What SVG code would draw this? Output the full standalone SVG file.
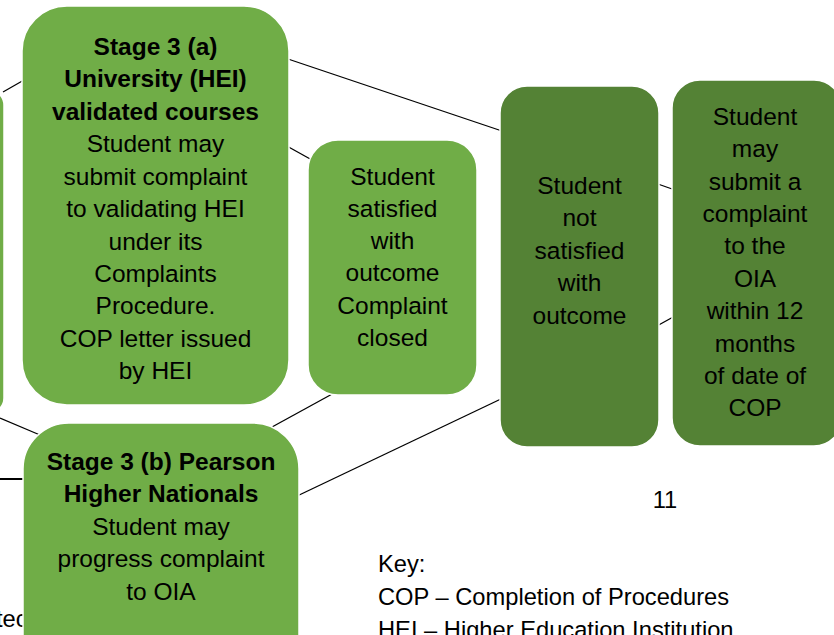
<svg xmlns="http://www.w3.org/2000/svg" width="834" height="635" viewBox="0 0 834 635">
<style>
.light{fill:#70AD47;stroke:#ffffff;stroke-width:1.5}
.dark{fill:#548235;stroke:#ffffff;stroke-width:1.5}
.t{font-family:"Liberation Sans",Arial,sans-serif;font-size:24.5px;fill:#000;text-anchor:middle}
.b{font-weight:bold}
.k{font-family:"Liberation Sans",Arial,sans-serif;font-size:23.7px;fill:#000}
.c{stroke:#000;stroke-width:1.3;fill:none}
</style>
<rect width="834" height="635" fill="#ffffff"/>
<text class="k" x="-4" y="627">tec</text>
<g id="connectors">
<line class="c" x1="3" y1="92" x2="24" y2="80"/>
<line class="c" x1="285" y1="58" x2="502" y2="131"/>
<line class="c" x1="285" y1="145" x2="312" y2="160"/>
<line class="c" x1="272" y1="427" x2="334" y2="393"/>
<line class="c" x1="295" y1="497" x2="503" y2="398"/>
<line class="c" x1="655" y1="183" x2="675" y2="190"/>
<line class="c" x1="655" y1="327" x2="675" y2="316"/>
<line class="c" x1="0" y1="418" x2="40" y2="435"/>
<line stroke="#000" stroke-width="2" x1="0" y1="479" x2="26" y2="479"/>
</g>
<g id="left-partial">
<rect class="light" x="-100" y="90" width="104" height="323" rx="15"/>
</g>
<g id="stage3a">
<rect class="light" x="22" y="6" width="267" height="399" rx="45"/>
<text class="t b" x="155.5" y="55">Stage 3 (a)</text>
<text class="t b" x="155.5" y="87">University (HEI)</text>
<text class="t b" x="155.5" y="120">validated courses</text>
<text class="t" x="155.5" y="152">Student may</text>
<text class="t" x="155.5" y="185">submit complaint</text>
<text class="t" x="155.5" y="217">to validating HEI</text>
<text class="t" x="155.5" y="250">under its</text>
<text class="t" x="155.5" y="282">Complaints</text>
<text class="t" x="155.5" y="314">Procedure.</text>
<text class="t" x="155.5" y="347">COP letter issued</text>
<text class="t" x="155.5" y="379">by HEI</text>
</g>
<g id="satisfied">
<rect class="light" x="308" y="140" width="169" height="255" rx="30"/>
<text class="t" x="392.5" y="185">Student</text>
<text class="t" x="392.5" y="217">satisfied</text>
<text class="t" x="392.5" y="249">with</text>
<text class="t" x="392.5" y="281">outcome</text>
<text class="t" x="392.5" y="314">Complaint</text>
<text class="t" x="392.5" y="346">closed</text>
</g>
<g id="not-satisfied">
<rect class="dark" x="500" y="86" width="159" height="361" rx="27"/>
<text class="t" x="579.5" y="194">Student</text>
<text class="t" x="579.5" y="226">not</text>
<text class="t" x="579.5" y="259">satisfied</text>
<text class="t" x="579.5" y="291">with</text>
<text class="t" x="579.5" y="324">outcome</text>
</g>
<g id="oia">
<rect class="dark" x="672" y="80" width="170" height="366" rx="28"/>
<text class="t" x="755" y="125">Student</text>
<text class="t" x="755" y="157">may</text>
<text class="t" x="755" y="190">submit a</text>
<text class="t" x="755" y="222">complaint</text>
<text class="t" x="755" y="254">to the</text>
<text class="t" x="755" y="287">OIA</text>
<text class="t" x="755" y="319">within 12</text>
<text class="t" x="755" y="352">months</text>
<text class="t" x="755" y="384">of date of</text>
<text class="t" x="755" y="416">COP</text>
</g>
<g id="stage3b">
<rect class="light" x="23" y="423" width="276" height="260" rx="46"/>
<text class="t b" x="161" y="470">Stage 3 (b) Pearson</text>
<text class="t b" x="161" y="502">Higher Nationals</text>
<text class="t" x="161" y="535">Student may</text>
<text class="t" x="161" y="567">progress complaint</text>
<text class="t" x="161" y="600">to OIA</text>
</g>
<g id="page-number">
<text class="k" x="665" y="508" text-anchor="middle">11</text>
</g>
<g id="key">
<text class="k" x="378" y="572">Key:</text>
<text class="k" x="378" y="605">COP – Completion of Procedures</text>
<text class="k" x="378" y="638">HEI – Higher Education Institution</text>
</g>
</svg>
